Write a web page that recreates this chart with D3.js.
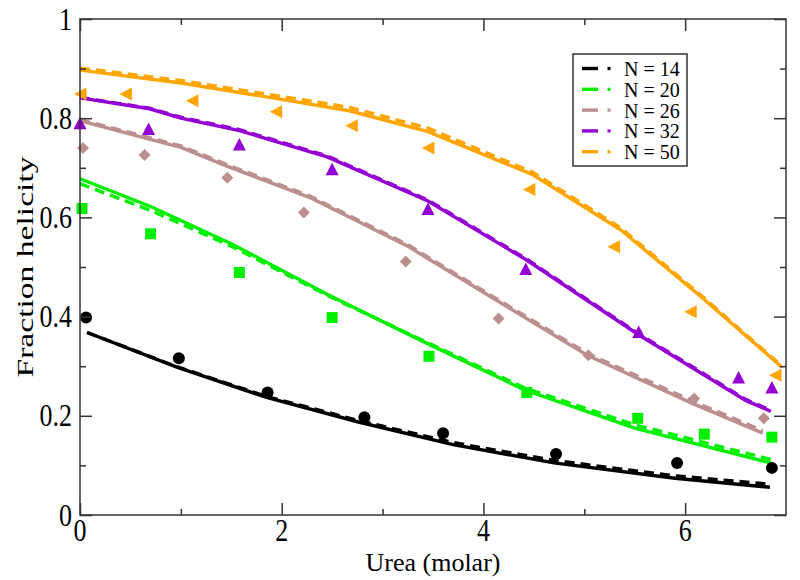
<!DOCTYPE html>
<html><head><meta charset="utf-8">
<script src="https://cdn.jsdelivr.net/npm/d3@7"></script>
<style>body{margin:0;background:#fff;} svg{display:block;} text{font-family:"Liberation Serif","Times New Roman",serif;}</style>
</head><body><svg id="c" width="800" height="580"></svg>
<script>
// ---- data ----
const seriesNames = ["N = 14", "N = 20", "N = 26", "N = 32", "N = 50"];
const seriesColors = ["#000000", "#00ee00", "#bc8f8f", "#9400d3", "#ffa500"];
const seriesSymbols = ["circle", "square", "diamond", "triangleUp", "triangleLeft"];

// experimental points [urea, helicity]
const pts14 = [[0.06,0.398],[0.98,0.316],[1.86,0.247],[2.82,0.197],[3.6,0.165],[4.72,0.123],[5.92,0.105],[6.86,0.095]];
const pts20 = [[0.02,0.618],[0.7,0.567],[1.58,0.489],[2.5,0.398],[3.46,0.32],[4.43,0.247],[5.53,0.195],[6.19,0.163],[6.86,0.157]];
const pts26 = [[0.03,0.74],[0.64,0.726],[1.46,0.68],[2.22,0.61],[3.23,0.511],[4.15,0.396],[5.04,0.322],[6.09,0.235],[6.78,0.195]];
const pts32 = [[0.0,0.789],[0.68,0.777],[1.58,0.746],[2.5,0.696],[3.45,0.616],[4.42,0.495],[5.54,0.368],[6.53,0.276],[6.86,0.256]];
const pts50 = [[0.01,0.849],[0.46,0.849],[1.12,0.835],[1.95,0.813],[2.7,0.785],[3.46,0.74],[4.46,0.656],[5.3,0.541],[6.06,0.41],[6.9,0.282]];

// model curves, solid
const solid14 = [[0.07,0.368],[0.96,0.298],[1.85,0.237],[2.77,0.187],[3.7,0.142],[4.7,0.105],[5.9,0.074],[6.84,0.056]];
const solid20 = [[0,0.678],[0.7,0.622],[1.5,0.547],[2.45,0.445],[3.44,0.346],[4.41,0.252],[5.5,0.175],[6.85,0.105]];
const solid26 = [[0,0.795],[0.63,0.761],[1,0.741],[1.45,0.704],[2.28,0.64],[3.24,0.543],[4.13,0.433],[5.03,0.322],[6.07,0.225],[6.77,0.165]];
const solid32 = [[0,0.841],[0.69,0.819],[1,0.80],[1.58,0.775],[2.45,0.722],[3.45,0.633],[4.42,0.515],[5.55,0.362],[6.6,0.231],[6.85,0.209]];
const solid50 = [[0,0.897],[1,0.871],[2,0.838],[2.67,0.815],[3.45,0.773],[4.49,0.686],[5.36,0.575],[6.14,0.443],[6.96,0.298]];
// model curves, dashed
const dash14 = [[0.07,0.368],[0.96,0.299],[1.85,0.239],[2.77,0.190],[3.7,0.146],[4.7,0.110],[5.9,0.079],[6.84,0.062]];
const dash20 = [[0,0.668],[0.7,0.614],[1.5,0.542],[2.45,0.443],[3.44,0.348],[4.41,0.256],[5.5,0.182],[6.85,0.112]];
const dash26 = [[0,0.797],[0.63,0.764],[1,0.744],[1.45,0.707],[2.28,0.643],[3.24,0.546],[4.13,0.436],[5.03,0.326],[6.07,0.230],[6.77,0.170]];
const dash32 = [[0,0.842],[0.69,0.820],[1,0.802],[1.58,0.777],[2.45,0.724],[3.45,0.635],[4.42,0.517],[5.55,0.364],[6.6,0.233],[6.85,0.211]];
const dash50 = [[0,0.901],[1,0.876],[2,0.844],[2.67,0.822],[3.45,0.780],[4.49,0.691],[5.36,0.579],[6.14,0.446],[6.96,0.300]];

const xTicks = [0, 2, 4, 6];
const yTicks = [0, 0.2, 0.4, 0.6, 0.8, 1];
const yTickLabels = ["0", "0.2", "0.4", "0.6", "0.8", "1"];

const points = [pts14, pts20, pts26, pts32, pts50];
const solids = [solid14, solid20, solid26, solid32, solid50];
const dashes = [dash14, dash20, dash26, dash32, dash50];

// ---- layout ----
const L = 80, R = 786, T = 19, B = 515;
const x = d3.scaleLinear().domain([0, 7]).range([L, R]);
const y = d3.scaleLinear().domain([0, 1]).range([B, T]);
const svg = d3.select("#c");
const font = "Liberation Serif, Times New Roman, serif";
const VS = 1.2; // slight vertical stretch of the lettering in the reference

svg.append("defs").append("clipPath").attr("id","clip")
  .append("rect").attr("x",L).attr("y",T).attr("width",R-L).attr("height",B-T);

const line = d3.line().x(d=>x(d[0])).y(d=>y(d[1])).curve(d3.curveLinear);
const g = svg.append("g").attr("clip-path","url(#clip)");

for (let i=0;i<5;i++){
  g.append("path").attr("d", line(dashes[i])).attr("fill","none")
    .attr("stroke", seriesColors[i]).attr("stroke-width",3.4).attr("stroke-dasharray","10,6");
  g.append("path").attr("d", line(solids[i])).attr("fill","none")
    .attr("stroke", seriesColors[i]).attr("stroke-width",3.4);
}

function symbolPath(type){
  const s = 6;
  if(type==="circle") return d3.symbol().type(d3.symbolCircle).size(Math.PI*s*s)();
  if(type==="square") return `M${-s+0.5},${-s+0.5}H${s-0.5}V${s-0.5}H${-s+0.5}Z`;
  if(type==="diamond") return `M0,${-s}L${s},0L0,${s}L${-s},0Z`;
  if(type==="triangleUp") return `M0,${-s-1}L${s+0.5},${s-0.5}L${-s-0.5},${s-0.5}Z`;
  if(type==="triangleLeft") return `M${-s-1},0L${s-0.5},${-s-0.5}L${s-0.5},${s+0.5}Z`;
}
const pg = svg.append("g");
for (let i=0;i<5;i++){
  pg.selectAll(null).data(points[i]).enter().append("path")
    .attr("d", symbolPath(seriesSymbols[i]))
    .attr("transform", d=>`translate(${x(d[0])},${y(d[1])})`)
    .attr("fill", seriesColors[i]);
}

// ---- frame and ticks ----
const axisColor = "#333";
svg.append("rect").attr("x",L).attr("y",T).attr("width",R-L).attr("height",B-T)
  .attr("fill","none").attr("stroke",axisColor).attr("stroke-width",1.5);

const xAxisB = d3.axisBottom(x).tickValues(xTicks).tickSize(-12).tickFormat("");
const xAxisBm = d3.axisBottom(x).tickValues([1,3,5]).tickSize(-6).tickFormat("");
const xAxisT = d3.axisTop(x).tickValues(xTicks).tickSize(-12).tickFormat("");
const xAxisTm = d3.axisTop(x).tickValues([1,3,5]).tickSize(-6).tickFormat("");
const yAxisL = d3.axisLeft(y).tickValues(yTicks).tickSize(-12).tickFormat("");
const yAxisLm = d3.axisLeft(y).tickValues([0.1,0.3,0.5,0.7,0.9]).tickSize(-6).tickFormat("");
const yAxisR = d3.axisRight(y).tickValues(yTicks).tickSize(-12).tickFormat("");
const yAxisRm = d3.axisRight(y).tickValues([0.1,0.3,0.5,0.7,0.9]).tickSize(-6).tickFormat("");
function styleAx(sel){ sel.select(".domain").remove(); sel.selectAll("line").attr("stroke",axisColor).attr("stroke-width",1.5); }
svg.append("g").attr("transform",`translate(0,${B})`).call(xAxisB).call(styleAx);
svg.append("g").attr("transform",`translate(0,${B})`).call(xAxisBm).call(styleAx);
svg.append("g").attr("transform",`translate(0,${T})`).call(xAxisT).call(styleAx);
svg.append("g").attr("transform",`translate(0,${T})`).call(xAxisTm).call(styleAx);
svg.append("g").attr("transform",`translate(${L},0)`).call(yAxisL).call(styleAx);
svg.append("g").attr("transform",`translate(${L},0)`).call(yAxisLm).call(styleAx);
svg.append("g").attr("transform",`translate(${R},0)`).call(yAxisR).call(styleAx);
svg.append("g").attr("transform",`translate(${R},0)`).call(yAxisRm).call(styleAx);

// tick labels
svg.selectAll(null).data(xTicks).enter().append("text")
  .attr("transform", d=>`translate(${x(d)},${B+26}) scale(1,${VS})`).attr("text-anchor","middle")
  .style("font-family",font).attr("font-size",26).attr("fill","#000").text(d=>d);
svg.selectAll(null).data(yTicks).enter().append("text")
  .attr("transform", d=>`translate(${L-8},${y(d)+10.5}) scale(1,${VS})`).attr("text-anchor","end")
  .style("font-family",font).attr("font-size",26).attr("fill","#000").text((d,i)=>yTickLabels[i]);

// axis titles
svg.append("text").attr("x",(L+R)/2).attr("y",571).attr("text-anchor","middle")
  .style("font-family",font).attr("font-size",26).text("Urea (molar)");
svg.append("text").attr("transform",`translate(33,${(T+B)/2}) scale(1,1.4) rotate(-90)`).attr("text-anchor","middle")
  .style("font-family",font).attr("font-size",24).text("Fraction helicity");

// ---- legend ----
const lg = svg.append("g");
lg.append("rect").attr("x",573).attr("y",54).attr("width",114).attr("height",112)
  .attr("fill","#fff").attr("stroke",axisColor).attr("stroke-width",1.5);
seriesNames.forEach((n,i)=>{
  const yy = 68.5 + i*20.8;
  lg.append("line").attr("x1",582).attr("x2",598).attr("y1",yy).attr("y2",yy)
    .attr("stroke",seriesColors[i]).attr("stroke-width",3.4);
  lg.append("rect").attr("x",607.5).attr("y",yy-1.6).attr("width",3).attr("height",3.2).attr("fill",seriesColors[i]);
  lg.append("text").attr("x",624).attr("y",yy+7.5).style("font-family",font).attr("font-size",20).text(n);
});
</script></body></html>
